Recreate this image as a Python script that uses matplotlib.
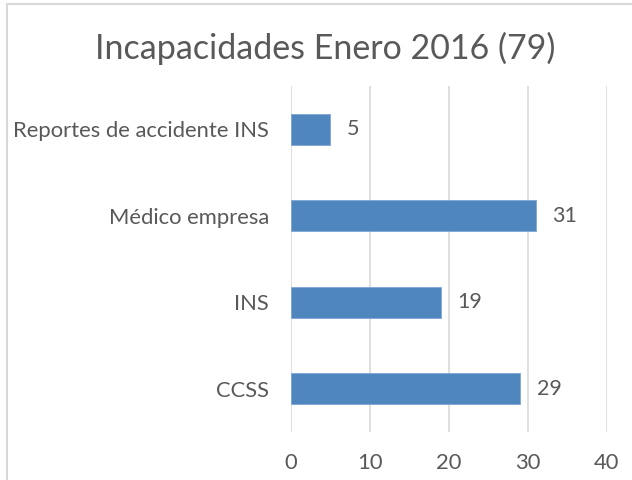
import matplotlib.pyplot as plt
from matplotlib.patches import Rectangle

categories = ['CCSS', 'INS', 'Médico empresa', 'Reportes de accidente INS']
values = [29, 19, 31, 5]
xticks = [0, 10, 20, 30, 40]
title = 'Incapacidades Enero 2016 (79)'

text_color = '#595959'
bar_color = '#4F86BE'
grid_color = '#D9D9D9'

plt.rcParams['font.family'] = ['Lato', 'DejaVu Sans']

fig = plt.figure(figsize=(6.32, 4.8), dpi=100)
ax = fig.add_axes([0.4604, 0.1, 0.5, 0.7208])

pos = list(range(len(categories)))
ax.barh(pos, values, height=0.36, color=bar_color, edgecolor='#7FA7D3', linewidth=0.6, zorder=3)

for p, v in zip(pos, values):
    ax.annotate(str(v), (v, p), xytext=(12, 0), textcoords='offset points',
                va='center', ha='left', fontsize=15.5, color=text_color)

ax.set_xlim(0, 40)
ax.set_ylim(-0.5, 3.5)
ax.set_xticks(xticks)
ax.set_yticks(pos)
ax.set_yticklabels(categories)
ax.tick_params(axis='both', length=0, labelsize=15.8, labelcolor=text_color)
ax.tick_params(axis='x', pad=15)
ax.tick_params(axis='y', pad=16)
ax.grid(axis='x', color=grid_color, linewidth=1.2, zorder=0)
for s in ax.spines.values():
    s.set_visible(False)

fig.text(0.514, 0.9, title, ha='center', va='center', fontsize=24.5, color=text_color)

# chart border (cut off on right and bottom like the reference)
fig.patches.append(Rectangle((7 / 632, -0.1), 1.2, 1.1 - 4 / 480, transform=fig.transFigure,
                             fill=False, edgecolor=grid_color, linewidth=1.5))

fig.savefig('out.png', dpi=100)
